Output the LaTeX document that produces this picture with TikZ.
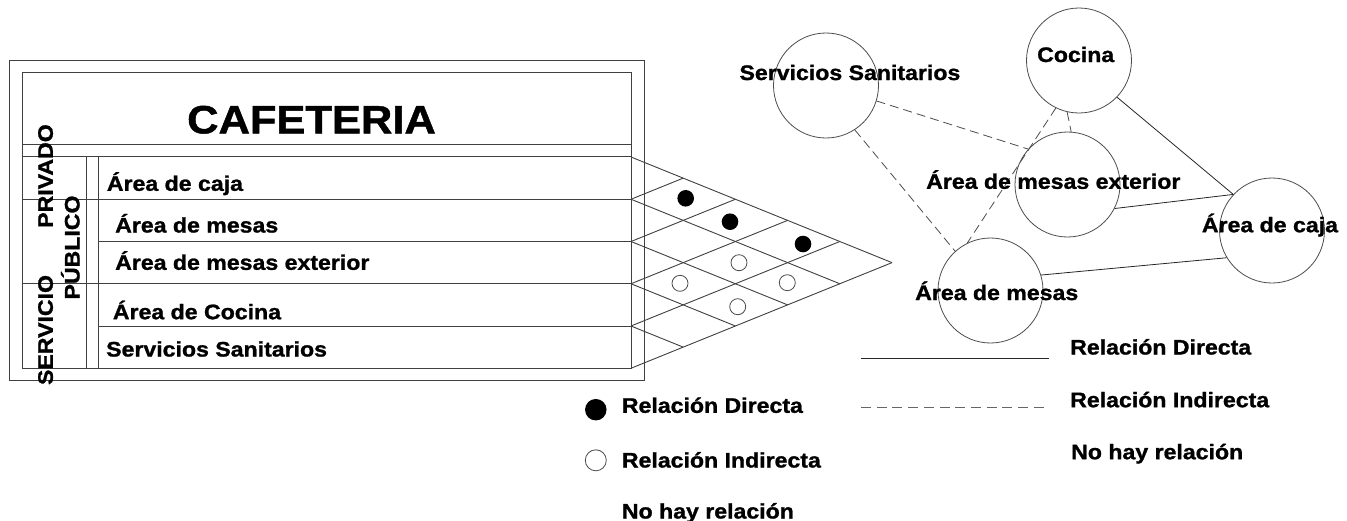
\documentclass[tikz,border=0pt]{standalone}
\usepackage{fontspec}
\setmainfont{Liberation Sans}[FakeStretch=1.1, BoldFeatures={FakeBold=1.2}]
\begin{document}
\begin{tikzpicture}[x=1pt,y=-1pt,
  tl/.style={draw=black!75, line width=0.9pt},
  lbl/.style={font=\bfseries\fontsize{21}{25}\selectfont, inner sep=0pt, text height=15pt, text depth=0pt},
  big/.style={font=\bfseries\fontsize{39.5}{45}\selectfont, inner sep=0pt, text height=28.3pt, text depth=0pt},
  room/.style={circle, draw=black!70, line width=0.8pt, minimum size=105pt, inner sep=0pt},
  direct/.style={draw=black!85, line width=0.8pt},
  indirect/.style={draw=black!70, line width=0.8pt, dash pattern=on 9pt off 5pt},
  fdot/.style={circle, fill=black, minimum size=16.6pt, inner sep=0pt},
  hdot/.style={circle, draw=black!70, line width=0.8pt, minimum size=16pt, inner sep=0pt}]
\useasboundingbox (0,0) rectangle (1347,520);
\fill[white] (0,0) rectangle (1347,520);

% ---- table ----
\draw[tl] (9,60) rectangle (644,380);
\draw[tl] (22,72) rectangle (631,368);
\draw[tl] (22,144.3) -- (631,144.3);
\draw[tl] (22,156.7) -- (631,156.7);
\draw[tl] (22,199) -- (631,199);
\draw[tl] (98.7,241.5) -- (631,241.5);
\draw[tl] (22,283.5) -- (631,283.5);
\draw[tl] (98.7,326) -- (631,326);
\draw[tl] (86,156.7) -- (86,368);
\draw[tl] (98.7,156.7) -- (98.7,368);

\node[big] (title) at (311.5,119.2) {CAFETERIA};
\node[lbl, rotate=90] (priv) at (45.3,176) {PRIVADO};
\node[lbl, rotate=90] (serv) at (45.3,330) {SERVICIO};
\node[lbl, rotate=90] (publ) at (72,247.5) {PÚBLICO};
\node[lbl, anchor=west] (r1) at (106.7,183.3) {Área de caja};
\node[lbl, anchor=west] (r2) at (115,225) {Área de mesas};
\node[lbl, anchor=west] (r3) at (115,262.3) {Área de mesas exterior};
\node[lbl, anchor=west] (r4) at (112.7,311.7) {Área de Cocina};
\node[lbl, anchor=west] (r5) at (106,349) {Servicios Sanitarios};

% ---- relation matrix ----
\foreach \k in {0,...,5} {
  \draw[tl] (631,{157+42.25*\k}) -- ++({(5-\k)*52.2},{(5-\k)*21.125});
  \draw[tl] (631,{157+42.25*\k}) -- ++({\k*52.2},{-\k*21.125});
}
\node[fdot] (f1) at (685.7,198.3) {};
\node[fdot] (f2) at (730,221.7) {};
\node[fdot] (f3) at (803,244) {};
\node[hdot] (h1) at (739,262.7) {};
\node[hdot] (h2) at (680,283.3) {};
\node[hdot] (h3) at (787.3,282.7) {};
\node[hdot] (h4) at (737.7,306.7) {};

% ---- legend left ----
\node[fdot, minimum size=21.5pt] (lf) at (595.8,409.7) {};
\node[hdot, minimum size=21pt] (lh) at (595.8,460.3) {};
\node[lbl, anchor=west] (lt1) at (621.7,405.3) {Relación Directa};
\node[lbl, anchor=west] (lt2) at (621.7,460) {Relación Indirecta};
\node[lbl, anchor=west] (lt3) at (621.7,511) {No hay relación};

% ---- bubble diagram ----
\node[room] (ss) at (826,85.5) {};
\node[room] (coc) at (1079,60.5) {};
\node[room] (ext) at (1067.5,184.5) {};
\node[room] (caja) at (1272,230.5) {};
\node[room] (mes) at (990.5,290.5) {};

\draw[indirect] (ss.-17.7) -- (ext.138);
\draw[indirect] (ss.-57.5) -- (mes.132.5);
\draw[indirect] (coc.-103.5) -- (ext.86);
\draw[indirect] (coc.-116.7) -- (mes.116.5);
\draw[direct] (coc.-44) -- (caja.137.3);
\draw[direct] (ext.-27.3) -- (caja.137.3);
\draw[direct] (mes.17.4) -- (caja.211.5);

\node[lbl, anchor=west] (tss) at (739.3,72.5) {Servicios Sanitarios};
\node[lbl, anchor=west] (tcoc) at (1037,54.5) {Cocina};
\node[lbl, anchor=west] (text) at (926,181.3) {Área de mesas exterior};
\node[lbl, anchor=west] (tcaja) at (1201.7,224.7) {Área de caja};
\node[lbl, anchor=west] (tmes) at (915,292.5) {Área de mesas};

% ---- legend right ----
\coordinate (da) at (861,358.3);
\coordinate (db) at (1049,358.3);
\coordinate (ia) at (861,407.3);
\coordinate (ib) at (1049,407.3);
\draw[direct] (da) -- (db);
\draw[draw=black!60, line width=0.9pt, dash pattern=on 10pt off 5.7pt] (ia) -- (ib);
\node[lbl, anchor=west] (rt1) at (1070,347) {Relación Directa};
\node[lbl, anchor=west] (rt2) at (1070,399.7) {Relación Indirecta};
\node[lbl, anchor=west] (rt3) at (1071,451.7) {No hay relación};
\end{tikzpicture}
\end{document}
